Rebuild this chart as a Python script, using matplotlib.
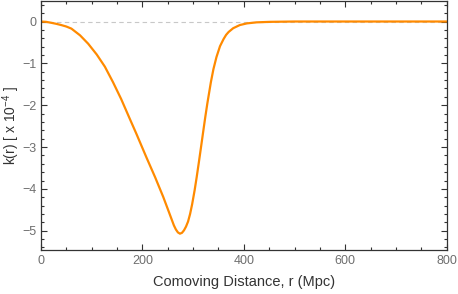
import numpy as np
import matplotlib.pyplot as plt
from matplotlib.ticker import MultipleLocator

plt.rcParams['font.family'] = ['Liberation Sans', 'DejaVu Sans']
plt.rcParams['mathtext.fontset'] = 'custom'
plt.rcParams['mathtext.rm'] = 'Liberation Sans'
plt.rcParams['mathtext.it'] = 'Liberation Sans:italic'

# curvature profile (r in Mpc, k in units of 1e-4)
r = [0, 10, 20, 30, 40, 50, 60, 77, 93, 110, 126, 142, 158, 176, 188, 208,
     225, 241, 250, 258, 262, 266, 270, 274, 278, 282, 286, 290, 294, 298,
     303, 307, 311, 315, 320, 324, 328, 335, 340, 346, 353, 360, 365, 370,
     379, 392, 406, 425, 452, 500, 600, 700, 800]
k = [0, -0.008, -0.03, -0.055, -0.085, -0.12, -0.17, -0.33, -0.53, -0.79,
     -1.08, -1.45, -1.85, -2.35, -2.68, -3.25, -3.72, -4.19, -4.48, -4.74,
     -4.87, -4.97, -5.04, -5.07, -5.05, -4.99, -4.90, -4.78, -4.60, -4.37,
     -4.03, -3.72, -3.39, -3.05, -2.62, -2.28, -1.96, -1.45, -1.14, -0.85,
     -0.59, -0.42, -0.32, -0.25, -0.16, -0.085, -0.045, -0.02, -0.008, 0,
     0, 0, 0]

fig = plt.figure(figsize=(4.58, 2.94), dpi=100)
ax = fig.add_axes([0.0895, 0.1497, 0.8858, 0.8483])

ax.axhline(0, color='#c8c8c8', lw=0.8, ls=(0, (4, 3)), zorder=1)
ax.plot(r, k, color='#ff8a00', lw=1.6, zorder=2, solid_joinstyle='round')

ax.set_xlim(0, 800)
ax.set_ylim(-5.46, 0.5)
ax.xaxis.set_major_locator(MultipleLocator(200))
ax.xaxis.set_minor_locator(MultipleLocator(50))
ax.yaxis.set_major_locator(MultipleLocator(1))
ax.yaxis.set_minor_locator(MultipleLocator(0.2))

ax.tick_params(which='both', direction='in', top=True, right=True,
               colors='#333333', labelcolor='#6e6e6e', labelsize=9, width=0.8)
ax.tick_params(which='major', length=4)
ax.tick_params(which='minor', length=2)
for s in ax.spines.values():
    s.set_color('#333333')
    s.set_linewidth(0.9)

ax.set_xlabel('Comoving Distance, r (Mpc)', fontsize=10.5, color='#333333', labelpad=6)
ax.set_ylabel(r'k(r) [ x 10$^{-4}$ ]', fontsize=10, color='#333333')
ax.yaxis.set_label_coords(-0.046, 0.5)

fig.savefig('out.png', dpi=100)
